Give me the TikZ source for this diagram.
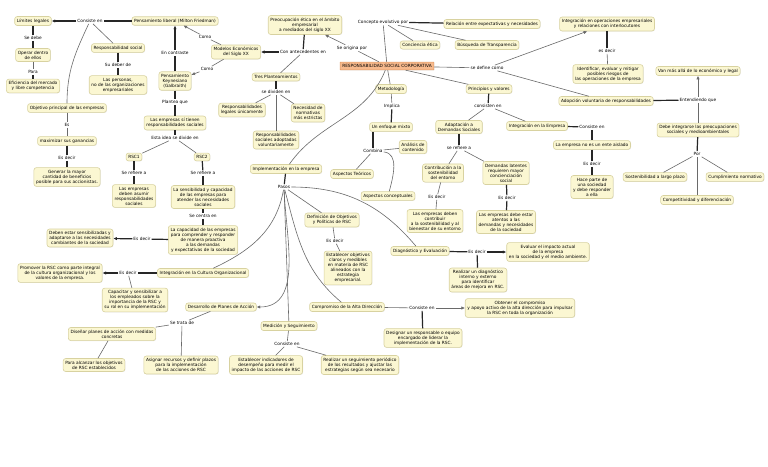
\documentclass[tikz,border=0pt]{standalone}
\usepackage{fontspec}
\setmainfont{DejaVu Sans}
\usetikzlibrary{arrows.meta,shadows}
\definecolor{boxfill}{HTML}{FBF7D2}
\definecolor{boxline}{HTML}{D8D2A0}
\definecolor{rscfill}{HTML}{F7B98C}
\definecolor{rscline}{HTML}{E09A66}
\definecolor{lngray}{HTML}{6A6A6A}
\newcommand{\fs}{\fontsize{4.3}{5.0}\selectfont}
\tikzset{
 box/.style={draw=boxline, fill=boxfill, rounded corners=2.5pt, line width=0.6pt, align=center, font=\fs, inner xsep=2.2pt, inner ysep=2.3pt, drop shadow={shadow xshift=0.5pt, shadow yshift=-0.5pt, opacity=0.2}},
 rscbox/.style={box, draw=rscline, fill=rscfill, rounded corners=0.5pt},
 lbl/.style={font=\fs, inner sep=1pt, align=center},
 ln/.style={draw=lngray, line width=0.6pt},
 thk/.style={draw=black!85, line width=1.2pt},
 arr/.style={-{Latex[length=3.6pt,width=3.3pt]}},
}
\begin{document}
\begin{tikzpicture}[x=1pt,y=-1pt]
\useasboundingbox[fill=white] (0,0) rectangle (768,466);
% Friedman
\node[box] (lib) at (175,21) {Pensamiento liberal (Milton Friedman)};
\node[box] (lim) at (33,21) {Límites legales};
\node[lbl] (c1) at (90,21) {Consiste en};
\node[lbl] (sedebe) at (33,38) {Se debe};
\node[box] (operar) at (33,55) {Operar dentro\\de ellos};
\node[lbl] (para) at (33,72) {Para};
\node[box] (efic) at (33,86) {Eficiencia del mercado\\y libre competencia};
\node[box] (respsoc) at (118,48) {Responsabilidad social};
\node[lbl] (sudeber) at (118,65) {Su deber de};
\node[box] (personas) at (118,85) {Las personas,\\no de las organizaciones\\empresariales};
\node[box] (obj) at (67,108) {Objetivo principal de las empresas};
\node[lbl] (es) at (67,125) {Es};
\node[box] (max) at (67,141) {maximizar sus ganancias};
\node[lbl] (esdec1) at (67,158) {Es decir};
\node[box] (gen) at (67,177) {Generar la mayor\\cantidad de beneficios\\posible para sus accionistas.};
% Keynes
\node[lbl] (contr) at (175,53) {En contraste};
\node[box] (keyn) at (175,81) {Pensamiento\\Keynesiano\\(Galbraith)};
\node[lbl] (plantea) at (175,102) {Plantea que};
\node[box] (tienen) at (175,123) {Las empresas sí tienen\\responsabilidades sociales};
\node[lbl] (idea) at (175,138) {Esta idea se divide en};
\node[box] (rsc1) at (134,157) {RSC1};
\node[lbl] (ref1) at (134,173) {Se refiere a};
\node[box] (asumir) at (134,196) {Las empresas\\deben asumir\\responsabilidades\\sociales};
\node[box] (rsc2) at (202,157) {RSC2};
\node[lbl] (ref2) at (203,173) {Se refiere a};
\node[box] (sensib) at (203,197) {La sensibilidad y capacidad\\de las empresas para\\atender las necesidades\\sociales};
\node[lbl] (centra) at (203,216) {Se centra en};
\node[box] (capac) at (203,240) {La capacidad de las empresas\\para comprender y responder\\de manera proactiva\\a las demandas\\y expectativas de la sociedad};
\node[lbl] (esdec2) at (142,239) {Es decir};
\node[box] (deben) at (80,238) {Deben estar sensibilizadas y\\adaptarse a las necesidades\\cambiantes de la sociedad};
% Modelos
\node[box] (modelos) at (236,52) {Modelos Económicos\\del Siglo XX};
\node[lbl] (como1) at (205,37) {Como};
\node[lbl] (como2) at (207,69) {Como};
\node[box] (preoc) at (305,25) {Preocupación ética en el ámbito\\empresarial\\a mediados del siglo XX};
\node[lbl] (antec) at (303,52) {Con antecedentes en};
\node[box] (tres) at (276,77) {Tres Planteamientos};
\node[lbl] (dividen) at (276,92) {se dividen en};
\node[box] (resleg) at (242,110) {Responsabilidades\\legales únicamente};
\node[box] (necnorm) at (308,113) {Necesidad de\\normativas\\más estrictas};
\node[box] (ressoc) at (276,140) {Responsabilidades\\sociales adoptadas\\voluntariamente};
% RSC
\node[rscbox] (rsc) at (387,66) {RESPONSABILIDAD SOCIAL CORPORATIVA};
\node[lbl] (origina) at (352,48) {Se origina por};
\node[lbl] (concepto) at (383,22) {Concepto evolutivo por};
\node[box] (relac) at (492,24) {Relación entre expectativas y necesidades};
\node[box] (concien) at (420,45) {Conciencia ética};
\node[box] (busq) at (487,45) {Búsqueda de Transparencia};
\node[lbl] (define) at (487,68) {se define como};
\node[box] (integop) at (607,24) {Integración en operaciones empresariales\\y relaciones con interlocutores};
\node[lbl] (esdec3) at (607,51) {es decir};
\node[box] (ident) at (608,74) {Identificar, evaluar y mitigar\\posibles riesgos de\\las operaciones de la empresa};
\node[box] (adop) at (606,101) {Adopción voluntaria de responsabilidades};
\node[lbl] (entend) at (698,100) {Entendiendo que};
\node[box] (van) at (698,71) {Van más allá de lo económico y legal};
\node[box] (debeint) at (698,130) {Debe integrarse las preocupaciones\\sociales y medioambientales};
\node[lbl] (por) at (697,154) {Por};
\node[box] (sost) at (655,177) {Sostenibilidad a largo plazo};
\node[box] (cumpl) at (735,177) {Cumplimiento normativo};
\node[box] (compet) at (697,200) {Competitividad y diferenciación};
% Metodologia
\node[box] (metod) at (391,89) {Metodología};
\node[lbl] (implica) at (392,106) {Implica};
\node[box] (enfoque) at (391,127) {Un enfoque mixto};
\node[lbl] (combina) at (373,151) {Combina};
\node[box] (analisis) at (413,147) {Análisis de\\contenido};
\node[box] (teor) at (352,174) {Aspectos Teóricos};
\node[box] (concept) at (388,196) {Aspectos conceptuales};
% Principios
\node[box] (princ) at (489,89) {Principios y valores};
\node[lbl] (consisten) at (488,106) {consisten en};
\node[box] (adapt) at (459,127) {Adaptación a\\Demandas Sociales};
\node[box] (integemp) at (537,126) {Integración en la Empresa};
\node[lbl] (c2) at (592,127) {Consiste en};
\node[box] (aislado) at (592,145) {La empresa no es un ente aislado};
\node[lbl] (esdec4) at (592,164) {Es decir};
\node[box] (hace) at (592,187) {Hace parte de\\una sociedad\\y debe responder\\a ella};
\node[lbl] (refiere) at (459,148) {se refiere a};
\node[box] (contrib) at (443,173) {Contribución a la\\sostenibilidad\\del entorno};
\node[lbl] (esdec5) at (437,197) {Es decir};
\node[box] (debcontrib) at (435,221) {Las empresas deben\\contribuir\\a la sostenibilidad y al\\bienestar de su entorno};
\node[box] (latentes) at (506,173) {Demandas latentes\\requieren mayor\\concienciación\\social};
\node[lbl] (esdec6) at (507,198) {Es decir};
\node[box] (atentos) at (506,222) {Las empresas debe estar\\atentos a las\\demandas y necesidades\\de la sociedad};
% Implementacion
\node[box] (impl) at (286,169) {Implementación en la empresa};
\node[lbl] (pasos) at (284,187) {Pasos};
\node[box] (diag) at (420,251) {Diagnóstico y Evaluación};
\node[lbl] (esdec7) at (477,252) {Es decir};
\node[box] (evaluar) at (548,252) {Evaluar el impacto actual\\de la empresa\\en la sociedad y el medio ambiente.};
\node[box] (realdiag) at (478,280) {Realizar un diagnóstico\\interno y externo\\para identificar\\áreas de mejora en RSC.};
\node[box] (def) at (332,220) {Definición de Objetivos\\y Políticas de RSC};
\node[lbl] (esdec8) at (335,241) {Es decir};
\node[box] (estab) at (348,268) {Establecer objetivos\\claros y medibles\\en materia de RSC\\alineados con la\\estrategia\\empresarial.};
\node[box] (comp) at (347,307) {Compromiso de la Alta Dirección};
\node[lbl] (c3) at (422,308) {Consiste en};
\node[box] (obtener) at (520,308) {Obtener el compromiso\\y apoyo activo de la alta dirección para impulsar\\la RSC en toda la organización};
\node[box] (designar) at (423,338) {Designar un responsable o equipo\\encargado de liderar la\\implementación de la RSC.};
\node[box] (medic) at (289,326) {Medición y Seguimiento};
\node[lbl] (c4) at (287,344) {Consiste en};
\node[box] (indic) at (266,365) {Establecer indicadores de\\desempeño para medir el\\impacto de las acciones de RSC};
\node[box] (seguim) at (360,365) {Realizar un seguimiento periódico\\de los resultados y ajustar las\\estrategias según sea necesario};
\node[box] (desarr) at (221,307) {Desarrollo de Planes de Acción};
\node[lbl] (trata) at (182,323) {Se trata de};
\node[box] (disenar) at (112,334) {Diseñar planes de acción con medidas\\concretas};
\node[box] (alcanzar) at (94,365) {Para alcanzar los objetivos\\de RSC establecidos};
\node[box] (asignar) at (181,365) {Asignar recursos y definir plazos\\para la implementación\\de las acciones de RSC};
\node[box] (intcult) at (203,273) {Integración en la Cultura Organizacional};
\node[lbl] (esdec9) at (128,273) {Es decir};
\node[box] (promover) at (60,273) {Promover la RSC como parte integral\\de la cultura organizacional y los\\valores de la empresa.};
\node[box] (capacitar) at (135,300) {Capacitar y sensibilizar a\\los empleados sobre la\\importancia de la RSC y\\su rol en su implementación};

% ---- connectors ----
\draw[thk] (lib) -- (c1);
\draw[thk,arr] (c1) -- (lim);
\draw[ln] (c1) -- (respsoc);
\draw[ln] (c1) to[out=-115,in=90] (obj);
\draw[thk] (lim) -- (sedebe);
\draw[thk] (sedebe) -- (operar);
\draw[ln] (operar) -- (para);
\draw[thk] (para) -- (efic);
\draw[thk] (respsoc) -- (sudeber);
\draw[thk] (sudeber) -- (personas);
\draw[ln] (obj) -- (es);
\draw[ln] (es) -- (max);
\draw[thk] (max) -- (esdec1);
\draw[thk] (esdec1) -- (gen);
\draw[thk] (keyn) -- (contr);
\draw[thk,arr] (contr) -- (lib);
\draw[thk] (keyn) -- (plantea);
\draw[thk] (plantea) -- (tienen);
\draw[thk] (tienen) -- (idea);
\draw[ln] (idea) -- (rsc1);
\draw[ln] (idea) -- (rsc2);
\draw[thk] (rsc1) -- (ref1);
\draw[thk] (ref1) -- (asumir);
\draw[thk] (rsc2) -- (ref2);
\draw[thk] (ref2) -- (sensib);
\draw[thk] (sensib) -- (centra);
\draw[thk] (centra) -- (capac);
\draw[thk] (capac) -- (esdec2);
\draw[thk,arr] (esdec2) -- (deben);
\draw[ln] (modelos) -- (como1);
\draw[ln,arr] (como1) -- (lib);
\draw[ln] (modelos) -- (como2);
\draw[ln,arr] (como2) -- (keyn);
\draw[thk] (preoc) -- (antec);
\draw[thk,arr] (antec) -- (modelos);
\draw[ln] (antec) -- (tres);
\draw[thk] (tres) -- (dividen);
\draw[ln] (dividen) -- (resleg);
\draw[ln] (dividen) -- (necnorm);
\draw[ln] (dividen) -- (ressoc);
\draw[ln] (rsc) -- (origina);
\draw[ln,arr] (origina) -- (preoc);
\draw[ln] (rsc) -- (concepto);
\draw[thk] (concepto) -- (relac);
\draw[ln] (concepto) -- (concien);
\draw[ln] (concepto) -- (busq);
\draw[ln] (rsc) -- (define);
\draw[ln,arr] (define) -- (integop);
\draw[ln] (define) -- (adop);
\draw[thk] (integop) -- (esdec3);
\draw[ln] (esdec3) -- (ident);
\draw[thk] (adop) -- (entend);
\draw[ln,arr] (entend) -- (van);
\draw[ln] (entend) -- (debeint);
\draw[thk] (debeint) -- (por);
\draw[ln] (por) -- (sost);
\draw[ln] (por) -- (cumpl);
\draw[ln] (por) -- (compet);
\draw[ln] (rsc) -- (metod);
\draw[ln] (metod) -- (implica);
\draw[thk] (implica) -- (enfoque);
\draw[thk] (combina) -- (combina |- enfoque.south);
\draw[ln] (combina) -- (analisis);
\draw[ln] (combina) -- (teor);
\draw[ln] (combina) to[out=-5,in=75] (concept);
\draw[ln] (rsc) -- (princ);
\draw[thk] (princ) -- (consisten);
\draw[ln] (consisten) -- (adapt);
\draw[ln] (consisten) -- (integemp);
\draw[thk] (integemp) -- (c2);
\draw[thk] (c2) -- (aislado);
\draw[thk] (aislado) -- (esdec4);
\draw[thk] (esdec4) -- (hace);
\draw[thk] (adapt) -- (refiere);
\draw[ln] (refiere) -- (contrib);
\draw[ln] (refiere) -- (latentes);
\draw[ln] (contrib) -- (esdec5);
\draw[ln] (esdec5) -- (debcontrib);
\draw[thk] (latentes) -- (esdec6);
\draw[thk] (esdec6) -- (atentos);
\draw[ln] (rsc) to[out=-112,in=55] (impl);
\draw[thk] (impl) -- (pasos);
\draw[ln] (pasos) -- (def);
\draw[ln] (pasos) to[out=0,in=130] (diag);
\draw[ln] (pasos) to[out=-100,in=25] (intcult);
\draw[ln,arr] (pasos) to[out=-88,in=0] (desarr);
\draw[ln] (pasos) -- (medic);
\draw[ln] (pasos) to[out=-75,in=140] (comp);
\draw[ln] (def) -- (esdec8);
\draw[ln] (esdec8) -- (estab);
\draw[ln] (comp) -- (c3);
\draw[ln,arr] (c3) -- (obtener);
\draw[thk] (c3) -- (designar);
\draw[ln] (medic) -- (c4);
\draw[ln] (c4) -- (indic);
\draw[ln] (c4) -- (seguim);
\draw[ln] (desarr) -- (trata);
\draw[ln] (trata) -- (disenar);
\draw[ln] (trata) -- (asignar);
\draw[ln] (disenar) -- (alcanzar);
\draw[thk] (intcult) -- (esdec9);
\draw[thk,arr] (esdec9) -- (promover);
\draw[ln] (esdec9) -- (capacitar);
\draw[thk] (diag) -- (esdec7);
\draw[thk,arr] (esdec7) -- (evaluar);
\draw[thk] (esdec7) -- (realdiag);
\end{tikzpicture}
\end{document}
